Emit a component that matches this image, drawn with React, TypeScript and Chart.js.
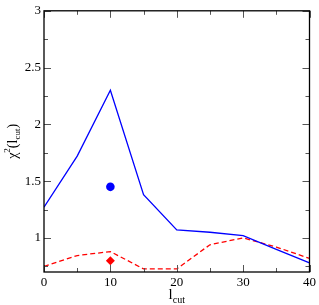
import React, { useEffect, useRef } from "react";
import { Chart, registerables } from "chart.js";

Chart.register(...registerables);

const lcut = [0, 5, 10, 15, 20, 25, 30, 35, 40];
const chiSolid = [1.27, 1.72, 2.3, 1.38, 1.07, 1.05, 1.02, 0.9, 0.78];
const chiDashed = [0.75, 0.845, 0.88, 0.727, 0.727, 0.94, 1.0, 0.92, 0.82];
const dotPoint = [{ x: 10, y: 1.45 }];
const diamondPoint = [{ x: 10, y: 0.8 }];

const xMajor = [0, 10, 20, 30, 40];
const xMinor = [5, 15, 25, 35];
const yMajor = [1, 1.5, 2, 2.5, 3];
const yMinor = [0.75, 1.25, 1.75, 2.25, 2.75];

const FONT = '"Liberation Serif", "Times New Roman", serif';

const framePlugin = {
  id: "frameTicks",
  afterDraw(chart: any) {
    const { ctx, chartArea } = chart;
    const xs = chart.scales.x;
    const ys = chart.scales.y;
    const { left, right, top, bottom } = chartArea;
    ctx.save();
    ctx.strokeStyle = "#555";
    ctx.lineWidth = 1;
    const major = 7;
    const minor = 4;
    const vt = (v: number, len: number) => {
      const px = Math.round(xs.getPixelForValue(v)) + 0.5;
      ctx.beginPath();
      ctx.moveTo(px, bottom);
      ctx.lineTo(px, bottom - len);
      ctx.moveTo(px, top);
      ctx.lineTo(px, top + len);
      ctx.stroke();
    };
    const ht = (v: number, len: number) => {
      const py = Math.round(ys.getPixelForValue(v)) + 0.5;
      ctx.beginPath();
      ctx.moveTo(left, py);
      ctx.lineTo(left + len, py);
      ctx.moveTo(right, py);
      ctx.lineTo(right - len, py);
      ctx.stroke();
    };
    xMajor.forEach((v) => vt(v, major));
    xMinor.forEach((v) => vt(v, minor));
    yMajor.forEach((v) => ht(v, major));
    yMinor.forEach((v) => ht(v, minor));
    ctx.strokeStyle = "#000";
    ctx.lineWidth = 1.3;
    ctx.strokeRect(left, top, right - left, bottom - top);

    // x title: l_cut
    ctx.fillStyle = "#000";
    ctx.textBaseline = "alphabetic";
    ctx.textAlign = "left";
    ctx.font = `15px ${FONT}`;
    const lW = ctx.measureText("l").width;
    ctx.font = `10px ${FONT}`;
    const cutW = ctx.measureText("cut").width;
    const cx = (left + right) / 2;
    const startX = cx - (lW + cutW) / 2;
    ctx.font = `15px ${FONT}`;
    ctx.fillText("l", startX, 299);
    ctx.font = `10px ${FONT}`;
    ctx.fillText("cut", startX + lW, 303);

    // y title: χ²(l_cut)
    ctx.translate(17, (top + bottom) / 2);
    ctx.rotate(-Math.PI / 2);
    const parts: [string, number, number][] = [
      ["χ", 14, 0],
      ["2", 9, -7],
      ["(l", 14, 0],
      ["cut", 9, 3],
      [")", 14, 0],
    ];
    let total = 0;
    parts.forEach(([t, s]) => {
      ctx.font = `${s}px ${FONT}`;
      total += ctx.measureText(t).width;
    });
    let x = -total / 2;
    parts.forEach(([t, s, dy]) => {
      ctx.font = `${s}px ${FONT}`;
      ctx.fillText(t, x, dy);
      x += ctx.measureText(t).width;
    });
    ctx.restore();
  },
};

export default function App() {
  const ref = useRef<HTMLCanvasElement | null>(null);
  useEffect(() => {
    document.body.style.margin = "0";
    const canvas = ref.current;
    if (!canvas) return;
    const chart = new Chart(canvas, {
      type: "scatter",
      data: {
        datasets: [
          {
            type: "line",
            data: lcut.map((x, i) => ({ x, y: chiSolid[i] })),
            borderColor: "#0000ff",
            borderWidth: 1.3,
            pointRadius: 0,
            fill: false,
            tension: 0,
          },
          {
            type: "line",
            data: lcut.map((x, i) => ({ x, y: chiDashed[i] })),
            borderColor: "#ff0000",
            borderWidth: 1.3,
            borderDash: [5, 3],
            pointRadius: 0,
            fill: false,
            tension: 0,
          },
          {
            data: dotPoint,
            pointStyle: "circle",
            pointRadius: 4.3,
            backgroundColor: "#0000ff",
            borderColor: "#0000ff",
            borderWidth: 0,
          },
          {
            data: diamondPoint,
            pointStyle: "rectRot",
            pointRadius: 4.5,
            backgroundColor: "#ff0000",
            borderColor: "#ff0000",
            borderWidth: 0,
          },
        ],
      } as any,
      options: {
        animation: false,
        responsive: false,
        maintainAspectRatio: false,
        layout: { padding: { top: 5, right: 8, left: 0, bottom: 0 } },
        plugins: {
          legend: { display: false },
          tooltip: { enabled: false },
        },
        scales: {
          x: {
            type: "linear",
            min: 0,
            max: 40,
            grid: { display: false, drawTicks: false },
            border: { display: false },
            afterBuildTicks: (s: any) => {
              s.ticks = xMajor.map((v) => ({ value: v }));
            },
            afterFit: (s: any) => {
              s.height = 33;
            },
            ticks: {
              padding: 3,
              color: "#000",
              font: { family: FONT, size: 13 },
              maxRotation: 0,
              callback: (v: any) => String(v),
            },
          },
          y: {
            type: "linear",
            min: 0.7,
            max: 3,
            grid: { display: false, drawTicks: false },
            border: { display: false },
            afterBuildTicks: (s: any) => {
              s.ticks = yMajor.map((v) => ({ value: v }));
            },
            afterFit: (s: any) => {
              s.width = 44;
            },
            ticks: {
              padding: 3,
              color: "#000",
              font: { family: FONT, size: 13 },
              callback: (v: any) => String(v),
            },
          },
        },
      } as any,
      plugins: [framePlugin],
    });
    return () => chart.destroy();
  }, []);
  return (
    <div style={{ position: "absolute", left: 0, top: 0, width: 319, height: 305 }}>
      <canvas ref={ref} width={319} height={305} style={{ width: 319, height: 305 }} />
    </div>
  );
}
